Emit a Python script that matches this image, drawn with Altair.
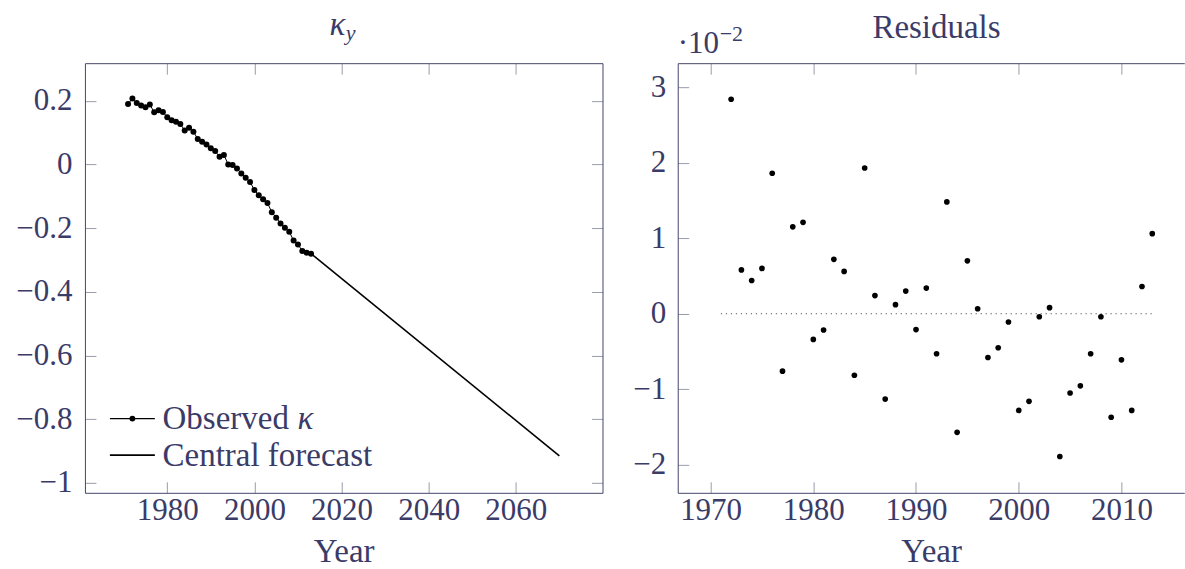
import altair as alt
import pandas as pd

# ---------------- data ----------------
obs_years = list(range(1971, 2014))
obs_kappa = [0.190, 0.207, 0.193, 0.185, 0.180, 0.188, 0.164, 0.170, 0.165, 0.148,
             0.139, 0.134, 0.127, 0.107, 0.115, 0.103, 0.080, 0.071, 0.063, 0.051,
             0.042, 0.024, 0.030, 0.000, -0.002, -0.013, -0.028, -0.042, -0.055, -0.080,
             -0.097, -0.109, -0.121, -0.150, -0.167, -0.185, -0.199, -0.211, -0.239, -0.251,
             -0.272, -0.277, -0.280]
fc_years = [2013, 2070]
fc_kappa = [-0.280, -0.915]

res_years = list(range(1972, 2014))
res_vals_e2 = [2.84, 0.58, 0.44, 0.60, 1.86, -0.76, 1.15, 1.21, -0.34, -0.215,
               0.72, 0.56, -0.815, 1.93, 0.24, -1.13, 0.12, 0.30, -0.21, 0.34,
               -0.53, 1.48, -1.57, 0.70, 0.066, -0.58, -0.45, -0.11, -1.28, -1.16,
               -0.04, 0.08, -1.89, -1.05, -0.955, -0.53, -0.04, -1.37, -0.61, -1.28,
               0.36, 1.06]
zero_years = [1971, 2013]
zero_vals = [0.0, 0.0]

legend_labels = ["Observed ", "κ", "Central forecast"]

left_xticks = [1980, 2000, 2020, 2040, 2060]
left_yticks = [0.2, 0, -0.2, -0.4, -0.6, -0.8, -1]
right_xticks = [1970, 1980, 1990, 2000, 2010]
right_yticks = [3, 2, 1, 0, -1, -2]

obs_df = pd.DataFrame({"year": obs_years, "kappa": obs_kappa})
fc_df = pd.DataFrame({"year": fc_years, "kappa": fc_kappa})
res_df = pd.DataFrame({"year": res_years, "res": res_vals_e2})
zero_df = pd.DataFrame({"year": zero_years, "res": zero_vals})

# ---------------- style ----------------
FONT = "Liberation Serif"
TXT = "#3b3b68"
FRAME = "#45456b"
TICK = "#9b9bab"
FS = 31      # numbers
FW = 33      # words
TL = 11
W, H = 518, 430
RW = 507

xL = alt.Scale(domain=[1961.1, 2079.9], nice=False, zero=False)
yL = alt.Scale(domain=[-1.031, 0.318], nice=False, zero=False)
xR = alt.Scale(domain=[1966.8, 1966.8 + RW / 10.28], nice=False, zero=False)
yR = alt.Scale(domain=[-2.371, 3.317], nice=False, zero=False)


def ax_main(orient, values, fmt, pad, title=None):
    kw = dict(orient=orient, values=values, format=fmt, offset=-TL, tickSize=TL,
              tickColor=TICK, tickWidth=1, domain=False, grid=False,
              labelFont=FONT, labelFontSize=FS, labelColor=TXT, labelPadding=pad,
              labelFlush=False, labelOverlap=False, title=title)
    if title:
        kw.update(titleFont=FONT, titleFontSize=FW, titleColor=TXT,
                  titleFontWeight="normal", titlePadding=10)
    return alt.Axis(**kw)


def ax_ticks(orient, values):
    return alt.Axis(orient=orient, values=values, offset=-TL, tickSize=TL,
                    tickColor=TICK, tickWidth=1, domain=False, grid=False,
                    labels=False, title=None)


def ax_frame(orient):
    return alt.Axis(orient=orient, ticks=False, labels=False, grid=False,
                    domain=True, domainColor=FRAME, domainWidth=1, title=None)


one = alt.Data(values=[{"a": 1}])


def label(text, x, y, size=FW, italic=False, align="center"):
    kw = dict(text=text, font=FONT, fontSize=size, color=TXT, align=align,
              baseline="alphabetic")
    if italic:
        kw["fontStyle"] = "italic"
    return alt.Chart(one).mark_text(**kw).encode(x=alt.value(x), y=alt.value(y))


# ---------------- left panel ----------------
l_line = alt.Chart(obs_df).mark_line(color="black", strokeWidth=1).encode(
    x=alt.X("year:Q", scale=xL, axis=ax_main("bottom", left_xticks, "d", 3, "Year")),
    y=alt.Y("kappa:Q", scale=yL, axis=ax_main("left", left_yticks, ".1~f", 13)),
)
l_pts = alt.Chart(obs_df).mark_circle(color="black", size=36, opacity=1).encode(
    x=alt.X("year:Q", scale=xL, axis=ax_ticks("top", left_xticks)),
    y=alt.Y("kappa:Q", scale=yL, axis=ax_ticks("right", left_yticks)),
)
l_fc = alt.Chart(fc_df).mark_line(color="black", strokeWidth=1.6).encode(
    x=alt.X("year:Q", scale=xL, axis=ax_frame("bottom")),
    y=alt.Y("kappa:Q", scale=yL, axis=ax_frame("left")),
)
l_frame = alt.Chart(obs_df).transform_filter("false").mark_point().encode(
    x=alt.X("year:Q", scale=xL, axis=ax_frame("top")),
    y=alt.Y("kappa:Q", scale=yL, axis=ax_frame("right")),
)

# legend (inside the lower-left of the plot)
LX0, LX1 = 25, 70
LY1, LY2 = 355.7, 392.3
leg_l1 = alt.Chart(one).mark_rule(color="black", strokeWidth=1.1).encode(
    x=alt.value(LX0), x2=alt.value(LX1), y=alt.value(LY1))
leg_d1 = alt.Chart(one).mark_circle(color="black", size=34, opacity=1).encode(
    x=alt.value((LX0 + LX1) / 2), y=alt.value(LY1))
leg_l2 = alt.Chart(one).mark_rule(color="black", strokeWidth=1.8).encode(
    x=alt.value(LX0), x2=alt.value(LX1), y=alt.value(LY2))
leg_t1 = label(legend_labels[0], 77.7, LY1 + 10.5, align="left")
leg_k = label(legend_labels[1], 77.7 + 135, LY1 + 10.5, italic=True, align="left")
leg_t2 = label(legend_labels[2], 77.7, LY2 + 10.5, align="left")

l_k = label("κ", 252.7, -28, italic=True)
l_y = label("y", 261, -23, size=22, italic=True, align="left")

left = alt.layer(l_line, l_pts, l_fc, l_frame, leg_l1, leg_d1, leg_l2,
                 leg_t1, leg_k, leg_t2, l_k, l_y).resolve_axis(
    x="independent", y="independent").properties(width=W, height=H)

# ---------------- right panel ----------------
r_zero = alt.Chart(zero_df).mark_line(color="#555555", strokeWidth=1,
                                      strokeDash=[1.2, 3.8]).encode(
    x=alt.X("year:Q", scale=xR, axis=ax_main("bottom", right_xticks, "d", 3, "Year")),
    y=alt.Y("res:Q", scale=yR, axis=ax_main("left", right_yticks, "d", 12)),
)
r_pts = alt.Chart(res_df).mark_circle(color="black", size=32, opacity=1).encode(
    x=alt.X("year:Q", scale=xR, axis=ax_ticks("top", right_xticks)),
    y=alt.Y("res:Q", scale=yR, axis=ax_frame("left")),
)
r_frame = alt.Chart(res_df).transform_filter("false").mark_point().encode(
    x=alt.X("year:Q", scale=xR, axis=ax_frame("top")),
    y=alt.Y("res:Q", scale=yR, axis=None),
)
r_frame2 = alt.Chart(res_df).transform_filter("false").mark_point().encode(
    x=alt.X("year:Q", scale=xR, axis=ax_frame("bottom")),
    y=alt.Y("res:Q", scale=yR, axis=None),
)
r_title = label("Residuals", 259, -25)
r_mul = label("·10", 0, -10, size=FS, align="left")
r_exp = label("−2", 42, -22, size=22, align="left")

right = alt.layer(r_zero, r_pts, r_frame, r_frame2, r_title, r_mul, r_exp).resolve_axis(
    x="independent", y="independent").properties(width=RW, height=H)

chart = alt.hconcat(left, right, spacing=75.3, bounds="flush").properties(
    padding={"left": 15, "top": 9, "right": 0, "bottom": 0}
).configure_view(strokeOpacity=0)

chart.save("out.html", embed_options={"renderer": "svg", "actions": False})
